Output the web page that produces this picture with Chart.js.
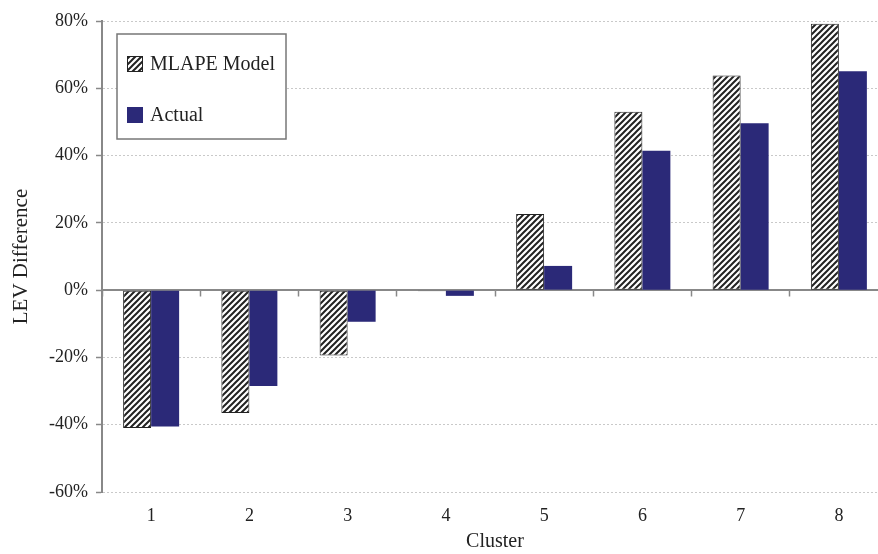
<!DOCTYPE html>
<html>
<head>
<meta charset="utf-8">
<script src="https://cdn.jsdelivr.net/npm/chart.js@4"></script>
<style>
html,body{margin:0;padding:0;background:#fff;overflow:hidden;}
#wrap{width:892px;height:554px;}
</style>
</head>
<body>
<div id="wrap"><canvas id="c" width="892" height="554"></canvas></div>
<script>
const categories = ['1','2','3','4','5','6','7','8'];
const mlapeModel = [-41.0, -36.5, -19.4, -0.3, 22.6, 53.0, 63.8, 79.2];
const actual = [-40.5, -28.5, -9.4, -1.7, 7.2, 41.4, 49.6, 65.1];
const seriesLabels = ['MLAPE Model', 'Actual'];
const yTicks = [-60, -40, -20, 0, 20, 40, 60, 80];

const FONT = "'Liberation Serif', 'DejaVu Serif', serif";
const NAVY = '#2B2978';

function makeHatch() {
  const s = 6;
  const c = document.createElement('canvas');
  c.width = s; c.height = s;
  const g = c.getContext('2d');
  g.fillStyle = '#fff';
  g.fillRect(0, 0, s, s);
  g.strokeStyle = '#222';
  g.lineWidth = 2;
  g.beginPath();
  g.moveTo(-1, s + 1); g.lineTo(s + 1, -1);
  g.moveTo(-1, 1); g.lineTo(1, -1);
  g.moveTo(s - 1, s + 1); g.lineTo(s + 1, s - 1);
  g.stroke();
  return document.getElementById('c').getContext('2d').createPattern(c, 'repeat');
}
const hatch = makeHatch();

const boxLegend = {
  id: 'boxLegend',
  afterDraw(chart) {
    const ctx = chart.ctx;
    ctx.save();
    const bx = 117, by = 34, bw = 169, bh = 105;
    ctx.fillStyle = '#fff';
    ctx.fillRect(bx, by, bw, bh);
    ctx.strokeStyle = '#777';
    ctx.lineWidth = 1.5;
    ctx.strokeRect(bx, by, bw, bh);
    const rows = [64, 115];
    chart.data.datasets.forEach((ds, i) => {
      const cy = rows[i];
      ctx.fillStyle = ds.backgroundColor;
      ctx.fillRect(127, cy - 8, 16, 16);
      if (ds.borderWidth) {
        ctx.strokeStyle = ds.borderColor;
        ctx.lineWidth = 1;
        ctx.strokeRect(127.5, cy - 7.5, 15, 15);
      }
      ctx.fillStyle = '#222';
      ctx.font = '20px ' + FONT;
      ctx.textBaseline = 'middle';
      ctx.textAlign = 'left';
      ctx.fillText(ds.label, 150, cy + 1);
    });
    ctx.restore();
  }
};

new Chart(document.getElementById('c'), {
  type: 'bar',
  data: {
    labels: categories,
    datasets: [
      { label: seriesLabels[0], data: mlapeModel, backgroundColor: hatch, borderColor: '#222', borderWidth: 1, borderSkipped: false },
      { label: seriesLabels[1], data: actual, backgroundColor: NAVY, borderWidth: 0 }
    ]
  },
  options: {
    responsive: false,
    animation: false,
    layout: { padding: { top: 21, right: 4, left: 0, bottom: 0 } },
    datasets: { bar: { categoryPercentage: 0.57, barPercentage: 1.0 } },
    plugins: { legend: { display: false }, tooltip: { enabled: false } },
    scales: {
      x: {
        type: 'category',
        offset: true,
        grid: { display: false, drawTicks: false },
        border: { display: false },
        ticks: { color: '#222', font: { family: FONT, size: 18 }, padding: 13 },
        title: { display: true, text: 'Cluster', color: '#222', font: { family: FONT, size: 20 }, padding: { top: 2, bottom: 0 } },
        afterFit(s) { s.height = 62; }
      },
      x2: {
        type: 'category',
        labels: categories,
        position: { y: 0 },
        offset: true,
        grid: { offset: true, drawOnChartArea: false, drawTicks: true, tickLength: 6, tickColor: '#888', tickWidth: 1.5 },
        border: { display: true, color: '#888', width: 1.5 },
        ticks: { display: false }
      },
      y: {
        min: -60, max: 80,
        afterBuildTicks(s) { s.ticks = yTicks.map(v => ({ value: v })); },
        grid: {
          color: (c) => (c.tick && c.tick.value === 0) ? '#888' : '#c9c9c9',
          lineWidth: 1,
          tickLength: 6,
          tickColor: '#888',
          tickWidth: 1.5
        },
        border: { display: true, color: '#888', width: 2, dash: (c) => (c.tick && c.tick.value !== 0) ? [2, 2] : [] },
        ticks: { color: '#222', font: { family: FONT, size: 18 }, padding: 8, callback: (v) => v + '%' },
        title: { display: true, text: 'LEV Difference', color: '#222', font: { family: FONT, size: 21 }, padding: { top: 9, bottom: 0 } },
        afterFit(s) { s.width = 102; }
      }
    }
  },
  plugins: [boxLegend]
});
</script>
</body>
</html>
